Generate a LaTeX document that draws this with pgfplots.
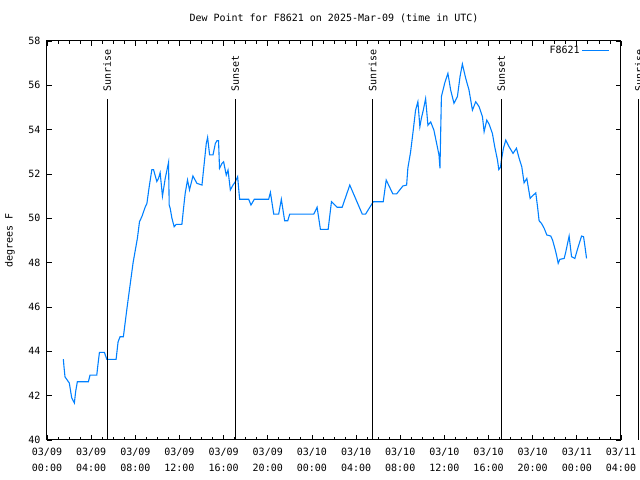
\documentclass[border=0pt]{standalone}
\usepackage{fontspec}
\setmainfont{DejaVu Sans Mono}
\usepackage{pgfplots}
\pgfplotsset{compat=1.18}
\definecolor{dew}{RGB}{0,128,255}
\begin{document}
\begin{tikzpicture}[font=\fontsize{10bp}{11bp}\selectfont]
\useasboundingbox (-47bp,-40bp) rectangle (593bp,440bp);
\begin{axis}[
  at={(0,0)}, anchor=south west,
  scale only axis, width=574bp, height=399bp,
  xmin=0, xmax=52, ymin=40, ymax=58,
  xtick={0,4,...,52},
  xticklabels={{03/09\\00:00},{03/09\\04:00},{03/09\\08:00},{03/09\\12:00},{03/09\\16:00},{03/09\\20:00},{03/10\\00:00},{03/10\\04:00},{03/10\\08:00},{03/10\\12:00},{03/10\\16:00},{03/10\\20:00},{03/11\\00:00},{03/11\\04:00}},
  minor x tick num=3,
  ytick={40,42,...,58},
  tick align=inside,
  major tick length=5bp, minor tick length=3bp,
  axis line style={line width=1bp},
  every tick/.style={black, line width=0.8bp},
  xticklabel style={align=center, font=\fontsize{10bp}{15.5bp}\selectfont, yshift=-5bp},
  yticklabel style={xshift=-3bp},
  /pgf/number format/assume math mode=true,
  title={Dew Point for F8621 on 2025-Mar-09 (time in UTC)},
  title style={at={(0.5,1)}, anchor=base, yshift=14bp},
  ylabel={degrees F},
  ylabel style={at={(axis description cs:-0.0645,0.5)}, anchor=center},
  clip=false,
  legend style={at={(1,1)}, anchor=north east, xshift=-8bp, yshift=-1bp, draw=none, fill=none,
    font=\fontsize{10bp}{11bp}\selectfont},
  legend plot pos=right,
  legend cell align=right,
  legend image code/.code={\draw[#1] (0bp,0bp) -- (27bp,0bp);},
]
\addplot[dew, line width=1.1bp] coordinates {
(1.48,43.65) (1.54,43.3) (1.63,42.85) (2.02,42.57) (2.24,41.9) (2.48,41.67)
(2.60,42.2) (2.75,42.63) (3.75,42.63) (3.90,42.93) (4.51,42.93) (4.63,43.46)
(4.75,43.95) (5.20,43.95) (5.42,43.64) (6.26,43.64) (6.44,44.43) (6.62,44.66)
(6.92,44.66) (7.26,46.0) (7.80,48.0) (8.19,49.1) (8.38,49.85) (8.59,50.07)
(8.89,50.5) (9.05,50.67) (9.26,51.43) (9.50,52.2) (9.65,52.2) (9.95,51.66)
(10.10,51.8) (10.25,52.06) (10.46,51.0) (10.71,51.8) (11.01,52.52) (11.07,50.6)
(11.16,50.45) (11.32,50.0) (11.52,49.62) (11.71,49.73) (12.22,49.73) (12.37,50.45)
(12.52,51.13) (12.73,51.73) (12.91,51.28) (13.22,51.91) (13.58,51.58) (14.04,51.5)
(14.18,52.18) (14.43,53.38) (14.55,53.65) (14.73,52.86) (15.04,52.86) (15.25,53.38)
(15.40,53.5) (15.54,53.5) (15.63,52.26) (15.85,52.48) (16.00,52.55) (16.24,51.95)
(16.40,52.18) (16.61,51.28) (16.85,51.5) (17.06,51.65) (17.27,51.88) (17.45,50.86)
(18.27,50.86) (18.48,50.6) (18.78,50.86) (20.08,50.86) (20.24,51.17) (20.54,50.19)
(20.99,50.19) (21.23,50.86) (21.53,49.89) (21.81,49.89) (21.99,50.19) (24.17,50.19)
(24.47,50.5) (24.77,49.5) (25.47,49.5) (25.77,50.75) (26.29,50.5) (26.74,50.5)
(27.43,51.5) (28.56,50.19) (28.86,50.19) (29.56,50.75) (30.46,50.75) (30.73,51.73)
(31.33,51.1) (31.67,51.1) (32.24,51.46) (32.58,51.5) (32.69,52.26) (32.94,53.0)
(33.18,53.98) (33.39,54.88) (33.60,55.26) (33.78,54.13) (33.91,54.5) (34.09,54.88)
(34.30,55.4) (34.51,54.2) (34.76,54.35) (35.05,53.98) (35.36,53.23) (35.51,52.86)
(35.60,52.26) (35.73,55.49) (36.03,56.1) (36.32,56.54) (36.57,55.79) (36.87,55.19)
(37.18,55.49) (37.42,56.4) (37.63,56.96) (37.93,56.32) (38.23,55.79) (38.54,54.88)
(38.84,55.26) (39.14,55.04) (39.45,54.58) (39.60,53.91) (39.84,54.43) (40.05,54.25)
(40.35,53.83) (40.56,53.23) (40.81,52.63) (40.93,52.2) (41.08,52.3) (41.17,52.63)
(41.35,53.16) (41.56,53.53) (41.86,53.23) (42.22,52.93) (42.53,53.16) (42.77,52.71)
(43.01,52.33) (43.22,51.6) (43.47,51.8) (43.62,51.35) (43.77,50.9) (43.89,50.97)
(44.28,51.15) (44.44,50.52) (44.58,49.89) (44.80,49.77) (45.04,49.55) (45.28,49.25)
(45.64,49.2) (45.80,49.02) (46.01,48.64) (46.16,48.34) (46.31,47.97) (46.46,48.15)
(46.85,48.19) (47.00,48.49) (47.30,49.2) (47.52,48.27) (47.82,48.19) (48.12,48.71)
(48.43,49.2) (48.61,49.17) (48.76,48.64) (48.88,48.19)
};
\addlegendentry{F8621}
\addplot[black, line width=1bp, forget plot] coordinates {(5.44,40) (5.44,55.38)};
\addplot[black, line width=1bp, forget plot] coordinates {(17.06,40) (17.06,55.38)};
\addplot[black, line width=1bp, forget plot] coordinates {(29.49,40) (29.49,55.38)};
\addplot[black, line width=1bp, forget plot] coordinates {(41.15,40) (41.15,55.38)};
\addplot[black, line width=1bp, forget plot] coordinates {(53.63,40) (53.63,55.38)};
\node[rotate=90, anchor=west, inner sep=0pt] at (axis cs:5.44,55.7) {Sunrise};
\node[rotate=90, anchor=west, inner sep=0pt] at (axis cs:17.06,55.7) {Sunset};
\node[rotate=90, anchor=west, inner sep=0pt] at (axis cs:29.49,55.7) {Sunrise};
\node[rotate=90, anchor=west, inner sep=0pt] at (axis cs:41.15,55.7) {Sunset};
\node[rotate=90, anchor=west, inner sep=0pt] at (axis cs:53.63,55.7) {Sunrise};
\end{axis}
\end{tikzpicture}
\end{document}
